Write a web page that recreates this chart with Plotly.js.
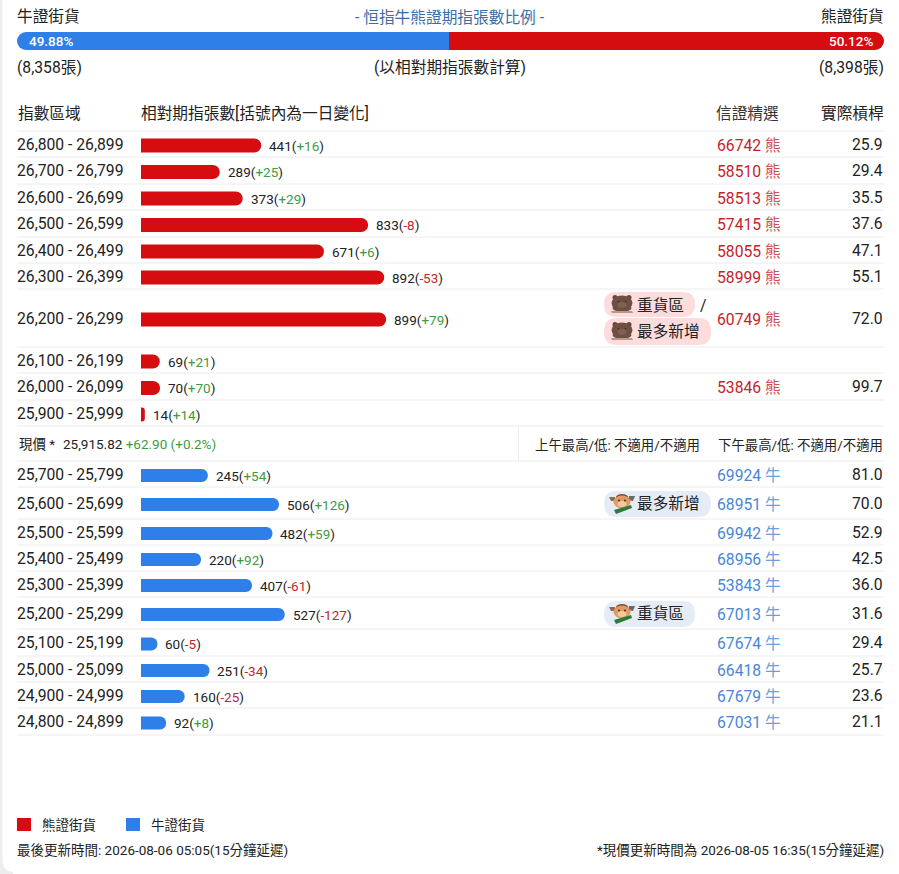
<!DOCTYPE html>
<html><head><meta charset="utf-8">
<script src="https://cdn.plot.ly/plotly-3.0.1.min.js"></script>
<style>html,body{margin:0;padding:0;background:#fff;overflow:hidden}#c{width:899px;height:874px}</style>
</head><body><div id="c"></div>
<script>
// ---- data ----
const bearRanges = ['26,800 - 26,899','26,700 - 26,799','26,600 - 26,699','26,500 - 26,599','26,400 - 26,499','26,300 - 26,399','26,200 - 26,299','26,100 - 26,199','26,000 - 26,099','25,900 - 25,999'];
const bearValues = [441,289,373,833,671,892,899,69,70,14];
const bearChanges = [16,25,29,-8,6,-53,79,21,70,14];
const bearCodes = ['66742','58510','58513','57415','58055','58999','60749','','53846',''];
const bearLeverage = ['25.9','29.4','35.5','37.6','47.1','55.1','72.0','','99.7',''];
const bullRanges = ['25,700 - 25,799','25,600 - 25,699','25,500 - 25,599','25,400 - 25,499','25,300 - 25,399','25,200 - 25,299','25,100 - 25,199','25,000 - 25,099','24,900 - 24,999','24,800 - 24,899'];
const bullValues = [245,506,482,220,407,527,60,251,160,92];
const bullChanges = [54,126,59,92,-61,-127,-5,-34,-25,8];
const bullCodes = ['69924','68951','69942','68956','53843','67013','67674','66418','67679','67031'];
const bullLeverage = ['81.0','70.0','52.9','42.5','36.0','31.6','29.4','25.7','23.6','21.1'];
const bullShare = 49.88, bearShare = 50.12;

// ---- layout constants (page pixels) ----
const W = 899, H = 874, BASE = 141, K = 0.2727;
const bearLines = [131,157,184,210,237,263,289,347,373,400,426];
const bullLines = [461,487,519,545,571,597,629,656,682,708,735];
const RED = '#d50c10', BLUE = '#2f7fe8', INK = '#222222', GREEN = '#3f9a42', CODE_RED = '#c4242c', CODE_BLUE = '#4a86d6', LINE = '#ececec';
const SANS = "Roboto, 'Noto Sans CJK TC', sans-serif";
const mids = l => l.slice(0,-1).map((v,i)=>(v+l[i+1])/2);
const bearMid = mids(bearLines), bullMid = mids(bullLines);

const X = px => (px - BASE) / K;
const ann = [];
function t(px, py, text, o) {
  o = o || {};
  ann.push({xref:'x', yref:'y', x:X(px), y:py, text:text, showarrow:false,
    xanchor:o.a||'left', yanchor:'middle', borderpad:0, borderwidth:0,
    font:{family:SANS, size:o.s||15.7, color:o.c||INK, weight:o.w||400}});
}
const shapes = [];
function rr(x0,y0,x1,y1,r,fill){
  const a=X(x0),b=X(x1),rx=r/K;
  shapes.push({type:'path',xref:'x',yref:'y',layer:'below',fillcolor:fill,line:{width:0},
    path:`M${a+rx},${y0} L${b-rx},${y0} Q${b},${y0} ${b},${y0+r} L${b},${y1-r} Q${b},${y1} ${b-rx},${y1} L${a+rx},${y1} Q${a},${y1} ${a},${y1-r} L${a},${y0+r} Q${a},${y0} ${a+rx},${y0} Z`});
}
function oval(cx,cy,rx,ry,fill){
  shapes.push({type:'circle',xref:'x',yref:'y',layer:'above',fillcolor:fill,line:{width:0},x0:X(cx-rx),x1:X(cx+rx),y0:cy-ry,y1:cy+ry});
}
function poly(pts,fill){
  shapes.push({type:'path',xref:'x',yref:'y',layer:'above',fillcolor:fill,line:{width:0},
    path:pts.map((p,i)=>(i?'L':'M')+X(p[0])+','+p[1]).join(' ')+' Z'});
}
function bear(cx,cy){
  oval(cx-7,cy-6.5,2.5,2.5,'#66483b'); oval(cx+7,cy-6.5,2.5,2.5,'#66483b');
  oval(cx,cy-1,10.5,7.5,'#6f4f42');
  oval(cx,cy+4,9.5,4,'#6f4f42');
  oval(cx,cy+1,4.5,3,'#7f6052');
  oval(cx-3.5,cy-2.5,.8,.8,'#3c2a22'); oval(cx+3.5,cy-2.5,.8,.8,'#3c2a22');
  poly([[cx-11,cy+7],[cx+10,cy+7],[cx+11,cy+9],[cx-10,cy+9]],'#b39a8a');
}
function bull(cx,cy){
  poly([[cx-7,cy-6],[cx-13,cy-6],[cx-11,cy-2],[cx-6,cy-2]],'#8a6a55');
  poly([[cx+7,cy-7],[cx+13,cy-7],[cx+11,cy-2],[cx+6,cy-3]],'#6e6a60');
  oval(cx,cy-6,6,3,'#7a5036');
  oval(cx,cy-1,8.5,6.5,'#e39a62');
  oval(cx,cy+1,4.5,3,'#f3c9a0');
  oval(cx-3,cy-2.5,.9,.9,'#3a2518'); oval(cx+3,cy-2.5,.9,.9,'#3a2518');
  poly([[cx-8,cy+7],[cx+9,cy+2],[cx+10,cy+5],[cx-6,cy+11]],'#2a7d36');
}
const delta = v => `<span style="color:${v<0?CODE_RED:GREEN}">${v<0?v:'+'+v}</span>`;

// ---- text ----
t(17,16,'牛證街貨');
t(450,17,'- 恒指牛熊證期指張數比例 -',{a:'center',c:'#3a6ea8'});
t(884,16,'熊證街貨',{a:'right'});
t(29,41,bullShare.toFixed(2)+'%',{c:'#fff',s:13.5,w:500});
t(873,41,bearShare.toFixed(2)+'%',{a:'right',c:'#fff',s:13.5,w:500});
t(17,67,'(8,358張)');
t(450,67,'(以相對期指張數計算)',{a:'center'});
t(884,67,'(8,398張)',{a:'right'});
t(18,113,'指數區域'); t(141,113,'相對期指張數[括號內為一日變化]');
t(779,113,'信證精選',{a:'right',c:'#333'}); t(884,113,'實際槓桿',{a:'right'});

function rows(mid,ranges,values,changes,codes,lev,side,color){
  mid.forEach((m,i)=>{
    t(17,m,ranges[i]);
    ann.push({xref:'x',yref:'y',x:values[i],y:m+1.5,xshift:8,text:`${values[i]}(${delta(changes[i])})`,showarrow:false,
      xanchor:'left',yanchor:'middle',borderpad:0,borderwidth:0,font:{family:SANS,size:13.5,color:INK}});
    if(codes[i]) t(717,m+1,`${codes[i]} <span style="color:${color};opacity:.8">${side}</span>`,{c:color});
    if(lev[i]) t(883,m,lev[i],{a:'right'});
  });
}
rows(bearMid,bearRanges,bearValues,bearChanges,bearCodes,bearLeverage,'熊',CODE_RED);
rows(bullMid,bullRanges,bullValues,bullChanges,bullCodes,bullLeverage,'牛',CODE_BLUE);

// current price row
t(19,444,'現價 *',{s:13.5});
t(63,444,`25,915.82 <span style="color:${GREEN}">+62.90 (+0.2%)</span>`,{s:13.5});
t(700,445,'上午最高/低: 不適用/不適用',{a:'right',s:13.4});
t(883,445,'下午最高/低: 不適用/不適用',{a:'right',s:13.4});

// chips
rr(604,292,695,317,12.5,'#fcdcdc'); bear(622,304); t(637,305,'重貨區');
t(700,305,'/');
rr(604,318,711,345,13,'#fcdcdc'); bear(622,331); t(637,331,'最多新增');
rr(604,491,711,517,13,'#e6ecf6'); bull(622,503); t(637,503,'最多新增');
rr(604,601,695,627,13,'#e6ecf6'); bull(622,613); t(637,613,'重貨區');

// legend + footer
t(42,825,'熊證街貨',{s:13.5}); t(151,825,'牛證街貨',{s:13.5});
t(17,850,'最後更新時間: 2026-08-06 05:05(15分鐘延遲)',{s:13.5});
t(884,850,'*現價更新時間為 2026-08-05 16:35(15分鐘延遲)',{a:'right',s:13.5});

// rules
[...bearLines,...bullLines].forEach(y=>{
  shapes.push({type:'line',xref:'x',yref:'y',layer:'below',x0:X(17),x1:X(884),y0:y,y1:y,line:{color:LINE,width:1}});
});
shapes.push({type:'line',xref:'x',yref:'y',layer:'below',x0:X(518.5),x1:X(518.5),y0:426,y1:461,line:{color:LINE,width:1}});
// legend swatches
function sq(x0,y0,x1,y1,c){shapes.push({type:'rect',xref:'x',yref:'y',layer:'above',x0:X(x0),x1:X(x1),y0:y0,y1:y1,fillcolor:c,line:{width:0}});}
sq(17,818,31,831,RED); sq(126,818,140,831,BLUE);
// page edge
shapes.push({type:'path',xref:'x',yref:'y',layer:'below',fillcolor:'#ededed',line:{width:0},
  path:`M${X(0)},0 L${X(2.5)},0 L${X(2.5)},862 Q${X(3)},871 ${X(13)},872 L${X(13)},874 L${X(0)},874 Z`});

// share bar: two diverging axes that meet at the split point (snapped to a whole pixel)
const L0 = 17, L1 = 884, split = Math.round(L0 + (L1-L0)*bullShare/(bullShare+bearShare));
const traces = [
 {type:'bar',orientation:'h',x:bearValues,y:bearMid.map(m=>m+1.5),width:14,marker:{color:RED,cornerradius:7},xaxis:'x',yaxis:'y',hoverinfo:'skip',name:'熊證街貨'},
 {type:'bar',orientation:'h',x:bullValues,y:bullMid.map(m=>m+1.5),width:13,marker:{color:BLUE,cornerradius:6.5},xaxis:'x',yaxis:'y',hoverinfo:'skip',name:'牛證街貨'},
 {type:'bar',orientation:'h',x:[bullShare],y:[41],width:18,marker:{color:BLUE,cornerradius:9},xaxis:'x2',yaxis:'y',hoverinfo:'skip',name:'牛證街貨'},
 {type:'bar',orientation:'h',x:[bearShare],y:[41],width:18,marker:{color:RED,cornerradius:9},xaxis:'x3',yaxis:'y',hoverinfo:'skip',name:'熊證街貨'}
];
const hidden = {visible:false,fixedrange:true,showgrid:false,zeroline:false};
const layout = {
  width:W,height:H,margin:{l:0,r:0,t:0,b:0,pad:0},paper_bgcolor:'#fff',plot_bgcolor:'rgba(0,0,0,0)',
  showlegend:false,barmode:'overlay',hovermode:false,
  xaxis:{...hidden,domain:[0,1],range:[X(0),X(W)],anchor:'y'},
  xaxis2:{...hidden,domain:[L0/W,split/W],range:[bullShare,0],anchor:'y'},
  xaxis3:{...hidden,domain:[split/W,L1/W],range:[0,bearShare],anchor:'y'},
  yaxis:{...hidden,domain:[0,1],range:[H,0],anchor:'x'},
  annotations:ann,shapes:shapes,font:{family:SANS}
};
Plotly.newPlot('c',traces,layout,{displayModeBar:false,staticPlot:true});
</script></body></html>
